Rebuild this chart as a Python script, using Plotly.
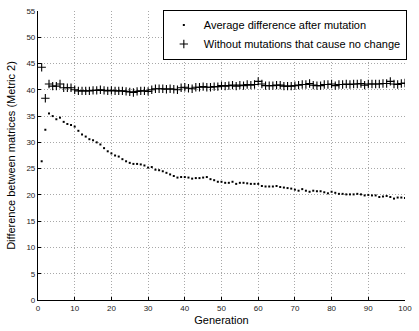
import plotly.graph_objects as go

generation = list(range(1, 101))

avg_diff = [
    26.4, 32.4, 35.5, 35.0, 34.4, 34.7, 33.9, 33.5, 33.3, 33.0,
    32.2, 31.5, 31.1, 30.6, 30.4, 30.0, 29.6, 28.9, 28.3, 27.9,
    27.5, 27.3, 26.8, 26.4, 26.1, 25.9, 25.9, 25.8, 25.6, 25.2,
    25.3, 24.8, 24.7, 24.5, 24.2, 23.9, 23.6, 23.3, 23.4, 23.4,
    23.3, 23.1, 23.2, 23.2, 23.3, 23.4, 23.0, 22.8, 22.5, 22.5,
    22.3, 22.3, 22.5, 22.1, 22.3, 22.3, 22.2, 22.1, 22.1, 22.1,
    21.7, 21.6, 21.6, 21.6, 21.7, 21.5, 21.4, 21.3, 21.2, 21.0,
    20.8, 21.1, 20.8, 20.6, 20.8, 20.7, 20.7, 20.5, 20.3, 20.6,
    20.4, 20.2, 20.2, 20.1, 20.1, 20.1, 20.2, 20.1, 19.9, 20.0,
    19.9, 19.9, 19.6, 19.7, 19.8, 19.6, 19.3, 19.5, 19.5, 19.4,
]

without_nochange = [
    44.3, 38.4, 41.1, 40.7, 40.7, 41.1, 40.4, 40.4, 40.4, 40.0,
    39.8, 39.8, 39.8, 39.8, 39.9, 39.9, 40.0, 39.9, 39.8, 39.9,
    39.8, 39.8, 39.8, 39.7, 39.6, 39.5, 39.7, 39.8, 39.8, 39.7,
    40.0, 40.2, 40.2, 40.2, 40.1, 40.2, 40.1, 40.0, 40.4, 40.5,
    40.3, 40.2, 40.5, 40.5, 40.6, 40.5, 40.5, 40.6, 40.6, 40.8,
    40.7, 40.8, 40.9, 40.7, 40.9, 40.8, 41.0, 40.9, 41.0, 41.6,
    41.1, 40.8, 40.8, 40.8, 40.9, 40.9, 40.7, 40.7, 40.7, 40.8,
    40.9, 41.0, 41.0, 41.2, 40.9, 40.8, 40.8, 41.0, 41.0, 41.1,
    40.8, 41.0, 41.0, 41.1, 41.0, 41.1, 41.1, 41.2, 40.9, 41.1,
    41.1, 41.1, 41.1, 41.2, 41.2, 41.6, 41.1, 41.0, 41.2, 41.3,
]

x_ticks = list(range(0, 101, 10))
y_ticks = list(range(0, 56, 5))

font_family = "Liberation Sans, Arial, Helvetica, sans-serif"

fig = go.Figure()
fig.add_trace(go.Scatter(
    x=generation, y=avg_diff, mode="markers",
    name="Average difference after mutation",
    marker=dict(symbol="square", size=2, color="black", line=dict(width=0)),
))
fig.add_trace(go.Scatter(
    x=generation, y=without_nochange, mode="markers",
    name="Without mutations that cause no change",
    marker=dict(symbol="cross-thin", size=6, color="black",
                line=dict(width=1.1, color="black")),
))

axis_common = dict(
    showline=True, linecolor="black", linewidth=1.2, mirror=False,
    ticks="inside", ticklen=3, tickcolor="black", tickwidth=1,
    showgrid=True, gridcolor="#a8a8a8", griddash="1px,2px", gridwidth=1,
    zeroline=False,
    tickfont=dict(family=font_family, size=8, color="#222"),
)

fig.update_xaxes(
    range=[0, 100], tickvals=x_ticks, ticktext=[str(v) for v in x_ticks],
    title=dict(text="Generation", font=dict(family=font_family, size=11, color="black"), standoff=4),
    **axis_common,
)
fig.update_yaxes(
    range=[0, 55], tickvals=y_ticks, ticktext=[str(v) for v in y_ticks],
    title=dict(text="Difference between matrices (Metric 2)",
               font=dict(family=font_family, size=11, color="black"), standoff=8),
    **axis_common,
)

fig.update_layout(
    width=419, height=331, autosize=False,
    margin=dict(l=38, r=7, t=8, b=29),
    paper_bgcolor="white", plot_bgcolor="white",
    font=dict(family=font_family, color="black"),
    showlegend=True,
    legend=dict(
        x=1.005, xanchor="right", y=1.005, yanchor="top",
        bgcolor="white", bordercolor="black", borderwidth=1,
        font=dict(family=font_family, size=11, color="black"),
        tracegroupgap=0, itemwidth=30,
    ),
)

fig.write_html("out.html")
